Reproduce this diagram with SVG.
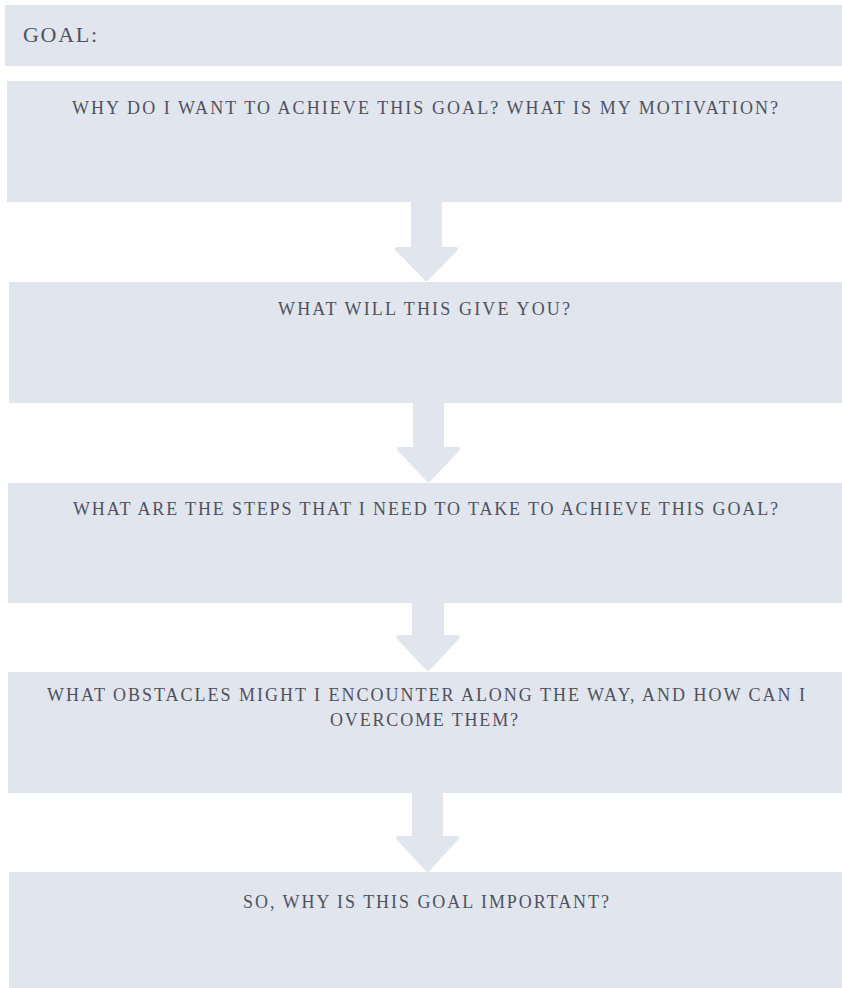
<svg xmlns="http://www.w3.org/2000/svg" width="842" height="988" viewBox="0 0 842 988">
<style>
.box{fill:#e1e5ee}
.arrow{fill:#e1e5ee;stroke:#e1e5ee;stroke-width:4;stroke-linejoin:round}
.t{font-size:18px;fill:#4f525d;text-anchor:middle}
.g{font-size:22px;fill:#4f525d}
</style>
<rect width="842" height="988" fill="#ffffff"/>
<g id="connectors">
<polygon class="arrow" points="413,200 440,200 440,249 456,249 426.5,279 397,249 413,249"/>
<polygon class="arrow" points="415,401 442,401 442,449 458,449 428.5,480 399,449 415,449"/>
<polygon class="arrow" points="414,601 442,601 442,637 458,637 428,669 398,637 414,637"/>
<polygon class="arrow" points="414,790 441,790 441,838 457,838 427.5,870 398,838 414,838"/>
</g>
<g font-family="'Liberation Serif', 'DejaVu Serif', serif">
<g id="goal">
<rect class="box" x="5" y="5" width="837" height="61"/>
<text class="g" x="23" y="42" textLength="74" lengthAdjust="spacing">GOAL:</text>
</g>
<g id="motivation">
<rect class="box" x="7" y="81" width="835" height="121"/>
<text class="t" x="425" y="114" textLength="706" lengthAdjust="spacing">WHY DO I WANT TO ACHIEVE THIS GOAL? WHAT IS MY MOTIVATION?</text>
</g>
<g id="give">
<rect class="box" x="9" y="282" width="833" height="121"/>
<text class="t" x="424" y="315" textLength="292" lengthAdjust="spacing">WHAT WILL THIS GIVE YOU?</text>
</g>
<g id="steps">
<rect class="box" x="8" y="483" width="834" height="120"/>
<text class="t" x="425.5" y="515" textLength="705" lengthAdjust="spacing">WHAT ARE THE STEPS THAT I NEED TO TAKE TO ACHIEVE THIS GOAL?</text>
</g>
<g id="obstacles">
<rect class="box" x="8" y="672" width="834" height="121"/>
<text class="t" x="426" y="701" textLength="758" lengthAdjust="spacing">WHAT OBSTACLES MIGHT I ENCOUNTER ALONG THE WAY, AND HOW CAN I</text>
<text class="t" x="424" y="726" textLength="188" lengthAdjust="spacing">OVERCOME THEM?</text>
</g>
<g id="important">
<rect class="box" x="9" y="872" width="833" height="116"/>
<text class="t" x="426" y="908" textLength="366" lengthAdjust="spacing">SO, WHY IS THIS GOAL IMPORTANT?</text>
</g>
</g>
</svg>
